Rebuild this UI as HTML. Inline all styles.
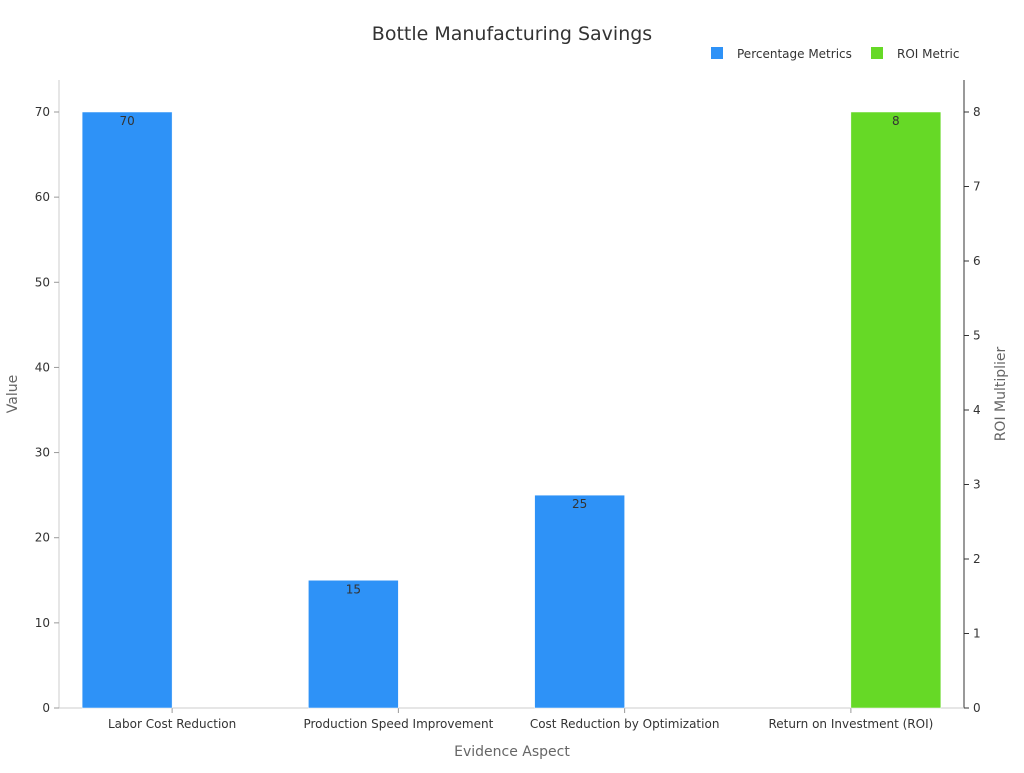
<!DOCTYPE html>
<html><head><meta charset="utf-8"><style>
body{margin:0;background:#fff;}
svg{font-family:"DejaVu Sans","Liberation Sans",sans-serif;}
</style></head><body>
<svg id="chart" width="1024" height="768">
<text x="512" y="40" text-anchor="middle" font-size="19" fill="#333">Bottle Manufacturing Savings</text>
<g>
<g><rect x="711" y="47" width="12" height="12" fill="#2e92f7"/><text x="737" y="58" font-size="12" fill="#333">Percentage Metrics</text></g>
<g><rect x="871" y="47" width="12" height="12" fill="#66d926"/><text x="897" y="58" font-size="12" fill="#333">ROI Metric</text></g>
</g>
<g id="marks"></g>
<text x="512" y="756" text-anchor="middle" font-size="14" fill="#666">Evidence Aspect</text>
<text x="17" y="394" text-anchor="middle" font-size="14" fill="#666" transform="rotate(-90 17 394)">Value</text>
<text x="1005" y="394" text-anchor="middle" font-size="14" fill="#666" transform="rotate(-90 1005 394)">ROI Multiplier</text>
</svg>
<script>
const categories=["Labor Cost Reduction","Production Speed Improvement","Cost Reduction by Optimization","Return on Investment (ROI)"];
const percentValues=[70,15,25,null];
const roiValues=[null,null,null,8];
const leftTicks=[0,10,20,30,40,50,60,70];
const rightTicks=[0,1,2,3,4,5,6,7,8];
const NS="http://www.w3.org/2000/svg";
const L=59,R=964,B=708,T=80;
const yL=v=>B-v*(596/70);
const yR=v=>B-v*(596/8);
const band=(R-L)/categories.length;
const g=document.getElementById('marks');
function el(t,a,txt){const e=document.createElementNS(NS,t);for(const k in a)e.setAttribute(k,a[k]);if(txt!=null)e.textContent=txt;g.appendChild(e);return e;}
let e;
e=el('line',{x1:L,y1:T,x2:L,y2:B,stroke:'#ccc'});


e=el('line',{x1:R,y1:T,x2:R,y2:B,stroke:'#333'});


e=el('line',{x1:L,y1:B,x2:R,y2:B,stroke:'#ccc'});


leftTicks.forEach(v=>{
 e=el('line',{x1:L-5,y1:yL(v),x2:L,y2:yL(v),stroke:'#999'});
 
 
 e=el('text',{x:L-9,y:yL(v)+4,'text-anchor':'end','font-size':12,fill:'#333'},v);
 
 
});
rightTicks.forEach(v=>{
 e=el('line',{x1:R,y1:yR(v),x2:R+5,y2:yR(v),stroke:'#333'});
 
 
 e=el('text',{x:R+9,y:yR(v)+4,'font-size':12,fill:'#333'},v);
 
 
});
const bw=90;
categories.forEach((c,i)=>{
 const cx=L+band*(i+0.5);
 e=el('line',{x1:cx,y1:B,x2:cx,y2:B+5,stroke:'#999'});
 
 
 e=el('text',{x:cx,y:B+20,'text-anchor':'middle','font-size':12,fill:'#333'},c);
 
 
 if(percentValues[i]!=null){
  const y=yL(percentValues[i]);
  e=el('rect',{x:cx-bw,y:y,width:bw,height:B-y,fill:'#2e92f7',stroke:'#fff','stroke-width':0.5});
  
  
  e=el('text',{x:cx-bw/2,y:y+13,'text-anchor':'middle','font-size':12,fill:'#333'},percentValues[i]);
  
  
 }
 if(roiValues[i]!=null){
  const y=yR(roiValues[i]);
  e=el('rect',{x:cx,y:y,width:bw,height:B-y,fill:'#66d926',stroke:'#fff','stroke-width':0.5});
  
  
  e=el('text',{x:cx+bw/2,y:y+13,'text-anchor':'middle','font-size':12,fill:'#333'},roiValues[i]);
  
  
 }
});
</script>
</body></html>
